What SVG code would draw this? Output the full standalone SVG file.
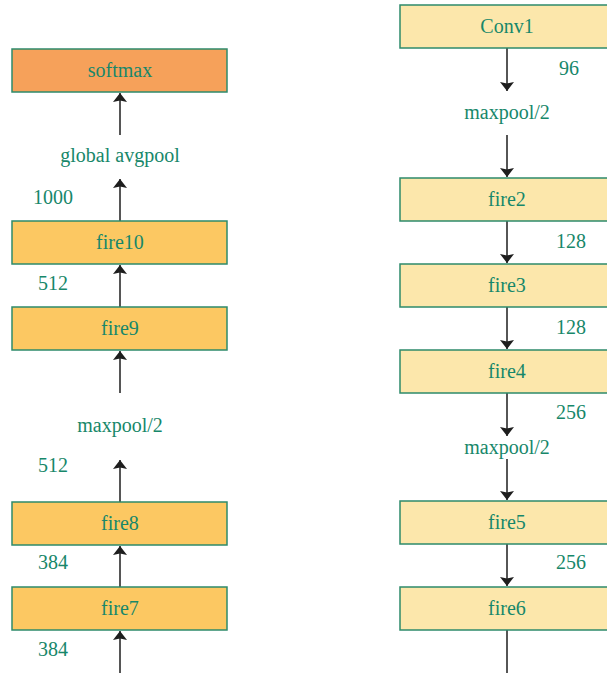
<svg xmlns="http://www.w3.org/2000/svg" width="607" height="673" viewBox="0 0 607 673">
  <defs>
    <marker id="head" viewBox="0 0 9 14" refX="9" refY="7" markerWidth="9" markerHeight="14" markerUnits="userSpaceOnUse" orient="auto">
      <path d="M0,0 L9,7 L0,14 L1.5,7 Z" fill="#1e1e1e"/>
    </marker>
  </defs>
  <style>
    .box { stroke: #2e8b6b; stroke-width: 1.5; }
    .soft { fill: #f6a15a; }
    .hi { fill: #fcc862; }
    .lo { fill: #fce7ab; }
    .t { font-family: "Liberation Serif", "DejaVu Serif", serif; font-size: 20px; fill: #17876a; }
    .c { text-anchor: middle; }
    .a { stroke: #1e1e1e; stroke-width: 1.5; fill: none; }
  </style>
  <rect width="607" height="673" fill="#ffffff"/>

  <!-- connectors -->
  <g id="connectors">
    <!-- left column, flowing upward -->
    <line class="a" x1="120" y1="135" x2="120" y2="93" marker-end="url(#head)"/>
    <line class="a" x1="120" y1="221" x2="120" y2="179" marker-end="url(#head)"/>
    <line class="a" x1="120" y1="307" x2="120" y2="265" marker-end="url(#head)"/>
    <line class="a" x1="120" y1="393" x2="120" y2="351" marker-end="url(#head)"/>
    <line class="a" x1="120" y1="502" x2="120" y2="460" marker-end="url(#head)"/>
    <line class="a" x1="120" y1="587" x2="120" y2="546" marker-end="url(#head)"/>
    <line class="a" x1="120" y1="673" x2="120" y2="631" marker-end="url(#head)"/>
    <!-- right column, flowing downward -->
    <line class="a" x1="507" y1="48" x2="507" y2="91" marker-end="url(#head)"/>
    <line class="a" x1="507" y1="135" x2="507" y2="177" marker-end="url(#head)"/>
    <line class="a" x1="507" y1="221" x2="507" y2="263" marker-end="url(#head)"/>
    <line class="a" x1="507" y1="307" x2="507" y2="349" marker-end="url(#head)"/>
    <line class="a" x1="507" y1="393" x2="507" y2="436" marker-end="url(#head)"/>
    <line class="a" x1="507" y1="459" x2="507" y2="500" marker-end="url(#head)"/>
    <line class="a" x1="507" y1="544" x2="507" y2="586" marker-end="url(#head)"/>
    <line class="a" x1="507" y1="630" x2="507" y2="673"/>
  </g>

  <!-- left column nodes -->
  <g id="softmax">
    <rect class="box soft" x="12" y="49" width="215" height="43"/>
    <text class="t c" x="120" y="77">softmax</text>
  </g>
  <g id="fire10">
    <rect class="box hi" x="12" y="221" width="215" height="43"/>
    <text class="t c" x="120" y="249">fire10</text>
  </g>
  <g id="fire9">
    <rect class="box hi" x="12" y="307" width="215" height="43"/>
    <text class="t c" x="120" y="335">fire9</text>
  </g>
  <g id="fire8">
    <rect class="box hi" x="12" y="502" width="215" height="43"/>
    <text class="t c" x="120" y="530">fire8</text>
  </g>
  <g id="fire7">
    <rect class="box hi" x="12" y="587" width="215" height="43"/>
    <text class="t c" x="120" y="615">fire7</text>
  </g>

  <!-- right column nodes -->
  <g id="conv1">
    <rect class="box lo" x="400" y="5" width="220" height="43"/>
    <text class="t c" x="507" y="33">Conv1</text>
  </g>
  <g id="fire2">
    <rect class="box lo" x="400" y="178" width="220" height="43"/>
    <text class="t c" x="507" y="206">fire2</text>
  </g>
  <g id="fire3">
    <rect class="box lo" x="400" y="264" width="220" height="43"/>
    <text class="t c" x="507" y="292">fire3</text>
  </g>
  <g id="fire4">
    <rect class="box lo" x="400" y="350" width="220" height="43"/>
    <text class="t c" x="507" y="378">fire4</text>
  </g>
  <g id="fire5">
    <rect class="box lo" x="400" y="501" width="220" height="43"/>
    <text class="t c" x="507" y="529">fire5</text>
  </g>
  <g id="fire6">
    <rect class="box lo" x="400" y="587" width="220" height="43"/>
    <text class="t c" x="507" y="615">fire6</text>
  </g>

  <!-- pooling stages and channel counts -->
  <g id="labels">
    <text class="t c" x="120" y="162">global avgpool</text>
    <text class="t" x="33" y="204">1000</text>
    <text class="t" x="38" y="290">512</text>
    <text class="t c" x="120" y="432">maxpool/2</text>
    <text class="t" x="38" y="472">512</text>
    <text class="t" x="38" y="569">384</text>
    <text class="t" x="38" y="656">384</text>

    <text class="t" x="559" y="75">96</text>
    <text class="t c" x="507" y="119">maxpool/2</text>
    <text class="t" x="556" y="248">128</text>
    <text class="t" x="556" y="334">128</text>
    <text class="t" x="556" y="419">256</text>
    <text class="t c" x="507" y="454">maxpool/2</text>
    <text class="t" x="556" y="569">256</text>
  </g>
</svg>
